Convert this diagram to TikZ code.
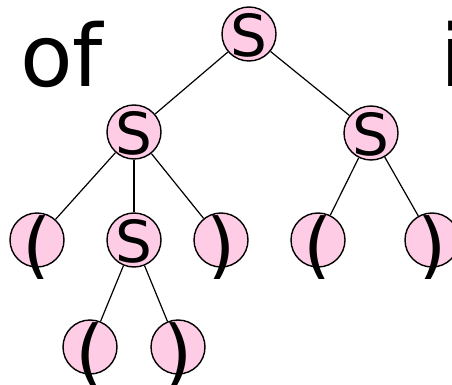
\documentclass[tikz,border=0pt]{standalone}
\usepackage{fontspec}
\setmainfont{DejaVu Sans}
\usetikzlibrary{calc}
\definecolor{nodepink}{HTML}{FFCCE6}
\begin{document}
\begin{tikzpicture}[x=1pt,y=-1pt,
  circ/.style={circle,draw=black,line width=1.4pt,fill=nodepink,minimum size=54pt,inner sep=0pt},
  edge/.style={draw=black,line width=1.2pt},
  slbl/.style={anchor=base,inner sep=0pt,font=\fontsize{58}{58}\selectfont},
  plbl/.style={anchor=base,inner sep=0pt,font=\fontsize{75}{75}\selectfont},
  bigtxt/.style={anchor=base west,inner sep=0pt,font=\fontsize{86}{86}\selectfont}]
\useasboundingbox (0,0) rectangle (452,385);
\fill[white] (0,0) rectangle (452,385);
% words
\node[bigtxt] (of) at (20,87) {of};
\node[bigtxt] (iw) at (440,87) {i};
% circles
\node[circ] (r) at (249,34) {};
\node[circ] (a) at (134,132) {};
\node[circ] (b) at (371,133) {};
\node[circ] (a1) at (37,240) {};
\node[circ] (a2) at (134,240) {};
\node[circ] (a3) at (221,240) {};
\node[circ] (b1) at (318,240) {};
\node[circ] (b2) at (432,240) {};
\node[circ] (c1) at (90,347) {};
\node[circ] (c2) at (178,347) {};
% edges
\draw[edge] (r) -- (a);
\draw[edge] (r) -- (b);
\draw[edge] (a) -- (a1);
\draw[edge] (a) -- (a2);
\draw[edge] (a) -- (a3);
\draw[edge] (b) -- (b1);
\draw[edge] (b) -- (b2);
\draw[edge] (a2) -- (c1);
\draw[edge] (a2) -- (c2);
% labels
\node[slbl] (tr) at ($(r)+(0,22.5)$) {S};
\node[slbl] (ta) at ($(a)+(0,22.5)$) {S};
\node[slbl] (tb) at ($(b)+(0,22.5)$) {S};
\node[slbl] (ta2) at ($(a2)+(0,22.5)$) {S};
\begin{scope}
\clip (0,0) rectangle (452,278);
\node[plbl] (ta1) at ($(a1)+(0,32)$) {(};
\node[plbl] (ta3) at ($(a3)+(0,32)$) {)};
\node[plbl] (tb1) at ($(b1)+(0,32)$) {(};
\node[plbl] (tb2) at ($(b2)+(0,32)$) {)};
\end{scope}
\node[plbl] (tc1) at ($(c1)+(0,32)$) {(};
\node[plbl] (tc2) at ($(c2)+(0,32)$) {)};
\end{tikzpicture}
\end{document}
